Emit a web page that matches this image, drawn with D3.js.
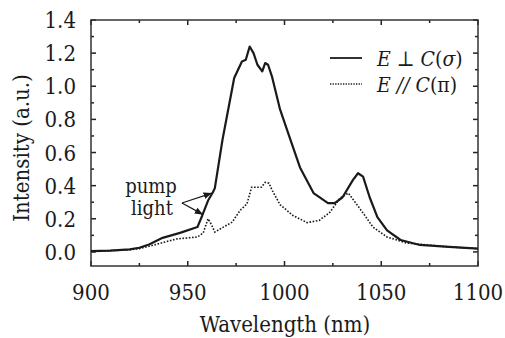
<!DOCTYPE html>
<html>
<head>
<meta charset="utf-8">
<script src="https://cdn.jsdelivr.net/npm/d3@7"></script>
<style>
  body { margin: 0; background: #fff; }
  svg text { font-family: "DejaVu Serif Condensed", "DejaVu Serif", serif; font-stretch: condensed; fill: #1a1a1a; }
</style>
</head>
<body>
<div class="svg-content"></div>
<script>
// sigma polarisation (E perpendicular to C)
const sigmaWl  = [900, 910, 920, 925, 930, 937, 946, 955, 957.5, 960.5, 963, 964, 968, 974, 978, 980, 982, 984, 986, 988.5, 990, 991.5, 993.5, 997.7, 1003, 1008, 1015, 1022.5, 1026, 1030, 1035.4, 1038, 1040.6, 1044, 1048, 1053, 1060, 1070, 1085, 1100];
const sigmaVal = [0.005, 0.008, 0.015, 0.025, 0.045, 0.085, 0.115, 0.15, 0.22, 0.31, 0.36, 0.385, 0.68, 1.05, 1.15, 1.16, 1.24, 1.2, 1.13, 1.09, 1.14, 1.13, 1.06, 0.86, 0.68, 0.51, 0.355, 0.295, 0.295, 0.33, 0.435, 0.475, 0.455, 0.33, 0.21, 0.13, 0.072, 0.042, 0.03, 0.02];
// pi polarisation (E parallel to C)
const piWl  = [900, 910, 920, 925, 932, 944, 955, 958, 960.5, 962, 964, 967.7, 973, 977, 980.6, 983, 988, 990, 992, 993.5, 997.7, 1004.4, 1011.6, 1018, 1023.5, 1028.7, 1033, 1036.5, 1040.6, 1045.7, 1053, 1063, 1085, 1100];
const piVal = [0.005, 0.008, 0.013, 0.02, 0.04, 0.078, 0.09, 0.115, 0.2, 0.17, 0.12, 0.145, 0.18, 0.25, 0.29, 0.39, 0.39, 0.42, 0.415, 0.375, 0.285, 0.22, 0.177, 0.19, 0.24, 0.325, 0.355, 0.3, 0.235, 0.15, 0.09, 0.054, 0.03, 0.02];

const xTicks = [900, 950, 1000, 1050, 1100];
const yTicks = [0, 0.2, 0.4, 0.6, 0.8, 1.0, 1.2, 1.4];

const svgWidth = 505;
const svgHeight = 338;
const plotLeft = 91, plotRight = 478, plotTop = 20, plotBottom = 266;

let svg = d3.select(".svg-content")
            .append("svg")
            .attr("width", svgWidth)
            .attr("height", svgHeight);

const xScale = d3.scaleLinear().domain([900, 1100]).range([plotLeft, plotRight]);
const yScale = d3.scaleLinear().domain([-0.085, 1.4]).range([plotBottom, plotTop]);

const ink = "#1a1a1a";

// tick marks on all four sides, pointing inward
const xMinor = d3.range(925, 1100, 50);
const yMinor = d3.range(0.1, 1.4, 0.2);

function tickMarks(sel, vals, len, horizontal) {
  vals.forEach(v => {
    if (horizontal) {
      const x = xScale(v);
      sel.append("line").attr("x1", x).attr("x2", x).attr("y1", plotBottom).attr("y2", plotBottom - len);
      sel.append("line").attr("x1", x).attr("x2", x).attr("y1", plotTop).attr("y2", plotTop + len);
    } else {
      const y = yScale(v);
      sel.append("line").attr("x1", plotLeft).attr("x2", plotLeft + len).attr("y1", y).attr("y2", y);
      sel.append("line").attr("x1", plotRight).attr("x2", plotRight - len).attr("y1", y).attr("y2", y);
    }
  });
}

const ticks = svg.append("g").attr("stroke", "#222").attr("stroke-width", 1.5);
tickMarks(ticks, xTicks, 5, true);
tickMarks(ticks, xMinor, 3, true);
tickMarks(ticks, yTicks, 5, false);
tickMarks(ticks, yMinor, 3, false);

svg.append("rect")
   .attr("x", plotLeft).attr("y", plotTop)
   .attr("width", plotRight - plotLeft).attr("height", plotBottom - plotTop)
   .attr("fill", "none").attr("stroke", "#333").attr("stroke-width", 1.5);

svg.selectAll(".xlab")
   .data(xTicks)
   .enter()
   .append("text")
   .attr("x", d => xScale(d))
   .attr("y", 300)
   .attr("text-anchor", "middle")
   .attr("font-size", 22)
   .text(d => d);

svg.selectAll(".ylab")
   .data(yTicks)
   .enter()
   .append("text")
   .attr("x", 76)
   .attr("y", d => yScale(d) + 8)
   .attr("text-anchor", "end")
   .attr("font-size", 22)
   .text(d => d.toFixed(1));

svg.append("text")
   .attr("x", 285).attr("y", 332)
   .attr("text-anchor", "middle")
   .attr("font-size", 22)
   .text("Wavelength (nm)");

svg.append("text")
   .attr("transform", "translate(29,148) rotate(-90)")
   .attr("text-anchor", "middle")
   .attr("font-size", 22)
   .text("Intensity (a.u.)");

// curves
const line = d3.line()
               .x(d => xScale(d[0]))
               .y(d => yScale(d[1]));

svg.append("path")
   .datum(piWl.map((w, i) => [w, piVal[i]]))
   .attr("d", line)
   .attr("fill", "none")
   .attr("stroke", ink)
   .attr("stroke-width", 1.6)
   .attr("stroke-dasharray", "1.6,1.6");

svg.append("path")
   .datum(sigmaWl.map((w, i) => [w, sigmaVal[i]]))
   .attr("d", line)
   .attr("fill", "none")
   .attr("stroke", ink)
   .attr("stroke-width", 2.2)
   .attr("stroke-linejoin", "round");

// legend
svg.append("line").attr("x1", 330).attr("x2", 362).attr("y1", 58).attr("y2", 58)
   .attr("stroke", ink).attr("stroke-width", 1.8);
svg.append("line").attr("x1", 330).attr("x2", 362).attr("y1", 84).attr("y2", 84)
   .attr("stroke", ink).attr("stroke-width", 1.6).attr("stroke-dasharray", "1.3,1.3");

const leg1 = svg.append("text").attr("x", 377).attr("y", 66).attr("font-size", 21);
leg1.append("tspan").attr("font-style", "italic").text("E");
leg1.append("tspan").text(" \u22A5 ");
leg1.append("tspan").attr("font-style", "italic").text("C");
leg1.append("tspan").text("(");
leg1.append("tspan").attr("font-style", "italic").text("\u03C3");
leg1.append("tspan").text(")");

const leg2 = svg.append("text").attr("x", 377).attr("y", 92).attr("font-size", 21);
leg2.append("tspan").attr("font-style", "italic").text("E");
leg2.append("tspan").attr("font-style", "italic").text(" //");
leg2.append("tspan").attr("font-style", "italic").text(" C");
leg2.append("tspan").text("(\u03C0)");

// pump light annotation
svg.append("defs").append("marker")
   .attr("id", "arrow")
   .attr("viewBox", "0 0 10 10")
   .attr("refX", 10).attr("refY", 5)
   .attr("markerWidth", 7).attr("markerHeight", 7)
   .attr("orient", "auto")
   .append("path")
   .attr("d", "M0,1 L10,5 L0,9 Z")
   .attr("fill", ink);

svg.append("text").attr("x", 151).attr("y", 193).attr("text-anchor", "middle").attr("font-size", 20).text("pump");
svg.append("text").attr("x", 152).attr("y", 215).attr("text-anchor", "middle").attr("font-size", 20).text("light");

const arrowFrom = [947, 0.295];
[[962.5, 0.355], [958, 0.225]].forEach(p => {
  svg.append("line")
     .attr("x1", xScale(arrowFrom[0])).attr("y1", yScale(arrowFrom[1]))
     .attr("x2", xScale(p[0])).attr("y2", yScale(p[1]))
     .attr("stroke", ink).attr("stroke-width", 1.2)
     .attr("marker-end", "url(#arrow)");
});
</script>
</body>
</html>
